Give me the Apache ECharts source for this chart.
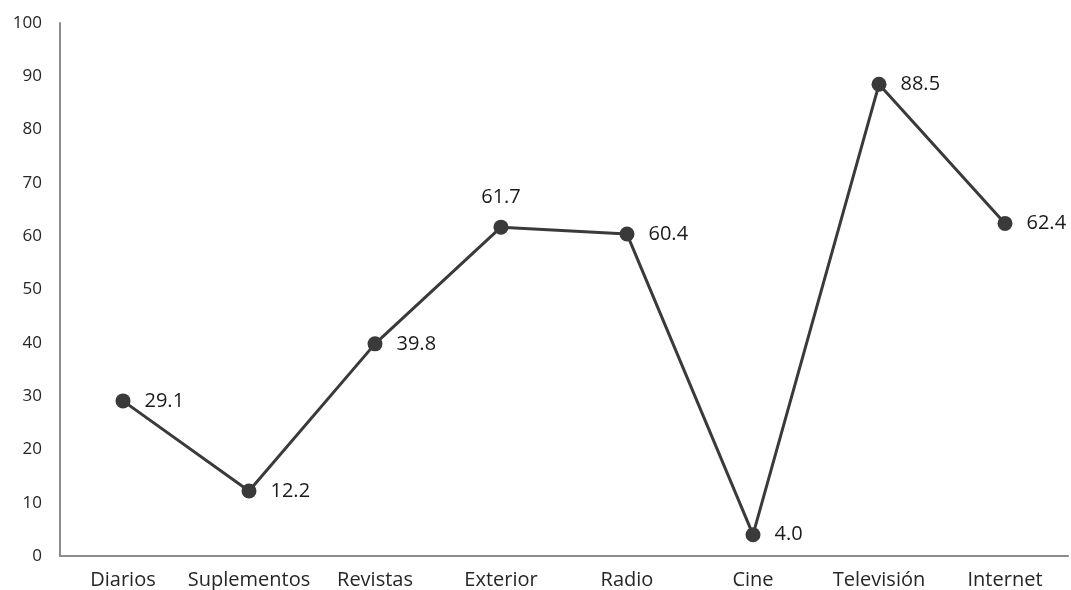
<!DOCTYPE html>
<html>
<head>
<meta charset="utf-8">
<script src="https://cdn.jsdelivr.net/npm/echarts@6/dist/echarts.min.js"></script>
<style>
  html, body { margin: 0; padding: 0; background: #ffffff; }
  #chart { width: 1071px; height: 590px; }
</style>
</head>
<body>
<div id="chart"></div>
<script>
// Media categories and their values
const categories = ['Diarios', 'Suplementos', 'Revistas', 'Exterior', 'Radio', 'Cine', 'Televisión', 'Internet'];
const values = [29.1, 12.2, 39.8, 61.7, 60.4, 4.0, 88.5, 62.4];
// Points whose label sits above the marker instead of to its right
const labelAbove = ['Exterior'];

const FONT = '"Open Sans", "Noto Sans", sans-serif';

const seriesData = values.map((v, i) => {
  const item = { value: v };
  if (labelAbove.includes(categories[i])) {
    item.label = { position: 'top', distance: 12 };
  }
  return item;
});

const chart = echarts.init(document.getElementById('chart'), null, { renderer: 'canvas' });
chart.setOption({
  animation: false,
  backgroundColor: '#ffffff',
  grid: { left: 60, right: 3, top: 23, bottom: 34, containLabel: false },
  xAxis: {
    type: 'category',
    data: categories,
    boundaryGap: true,
    axisLine: { show: true, lineStyle: { color: '#8c8c8c', width: 2 } },
    axisTick: { show: false },
    axisLabel: { color: '#262626', fontSize: 20, fontFamily: FONT, margin: 14, interval: 0 }
  },
  yAxis: {
    type: 'value',
    min: 0,
    max: 100,
    interval: 10,
    axisLine: { show: true, lineStyle: { color: '#8c8c8c', width: 2 } },
    axisTick: { show: false },
    splitLine: { show: false },
    axisLabel: { color: '#262626', fontSize: 17, fontFamily: FONT, margin: 18 }
  },
  series: [{
    type: 'line',
    data: seriesData,
    symbol: 'circle',
    symbolSize: 15,
    lineStyle: { color: '#3a3a3a', width: 3 },
    itemStyle: { color: '#3a3a3a' },
    label: {
      show: true,
      position: 'right',
      distance: 14,
      color: '#1a1a1a',
      fontSize: 20,
      fontFamily: FONT,
      formatter: p => p.value.toFixed(1)
    }
  }]
});
</script>
</body>
</html>
